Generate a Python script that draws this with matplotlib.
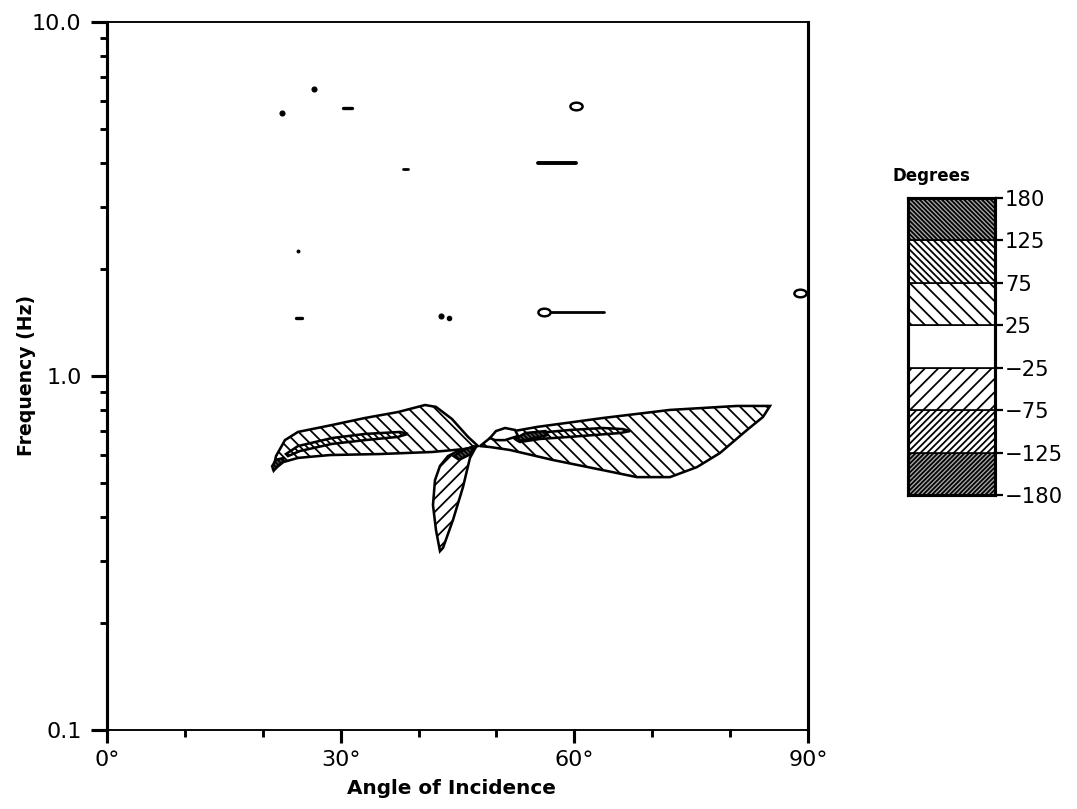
import numpy as np
import matplotlib
matplotlib.use("Agg")
import matplotlib.pyplot as plt
from matplotlib.path import Path
from matplotlib.markers import MarkerStyle
from matplotlib.transforms import Affine2D
from matplotlib.ticker import NullFormatter, FixedLocator

plt.rcParams['font.family'] = ['DejaVu Sans']
plt.rcParams['hatch.linewidth'] = 1.6

# ---- phase-band contour outlines: (angle of incidence [deg], frequency [Hz]) ----
left_lobe_ang = [21.31, 21.70, 22.85, 24.52, 28.89, 33.12, 37.36, 40.83, 42.24, 44.29,
                 46.35, 47.63, 45.96, 41.73, 35.05, 28.63, 24.52, 22.60, 21.70]
left_lobe_f = [0.542, 0.594, 0.659, 0.695, 0.727, 0.761, 0.791, 0.828, 0.818, 0.756,
               0.673, 0.634, 0.622, 0.610, 0.602, 0.598, 0.587, 0.571, 0.550]

left_inner_ang = [22.98, 24.52, 28.89, 33.12, 37.62, 38.64, 37.36, 33.12, 28.89, 24.78, 23.24]
left_inner_f = [0.602, 0.634, 0.668, 0.686, 0.695, 0.686, 0.673, 0.659, 0.643, 0.614, 0.594]

left_core_ang = [21.2, 21.7, 22.6, 22.7, 21.9, 21.4]
left_core_f = [0.556, 0.580, 0.586, 0.574, 0.556, 0.540]

down_lobe_ang = [47.37, 46.60, 45.71, 44.42, 43.14, 42.75, 42.24, 41.85, 42.11, 42.75, 43.78, 45.32]
down_lobe_f = [0.630, 0.587, 0.486, 0.392, 0.327, 0.320, 0.367, 0.432, 0.508, 0.557, 0.594, 0.618]

center_core_ang = [44.5, 45.8, 47.2, 46.6, 45.2]
center_core_f = [0.594, 0.618, 0.634, 0.600, 0.580]

right_lobe_ang = [47.89, 49.17, 50.84, 55.21, 63.68, 72.28, 80.88, 85.12, 84.22, 82.17,
                  78.70, 75.75, 72.28, 68.04, 63.68, 57.26, 51.74, 49.17]
right_lobe_f = [0.634, 0.668, 0.690, 0.718, 0.761, 0.802, 0.823, 0.823, 0.766, 0.704,
                0.606, 0.553, 0.518, 0.518, 0.542, 0.579, 0.618, 0.630]

right_inner_ang = [52.64, 55.21, 59.44, 63.68, 66.25, 67.15, 65.86, 59.44, 55.59, 53.02]
right_inner_f = [0.659, 0.690, 0.704, 0.713, 0.708, 0.699, 0.690, 0.673, 0.664, 0.651]

right_core_ang = [52.4, 53.7, 56.3, 56.6, 54.4, 52.8]
right_core_f = [0.664, 0.690, 0.699, 0.681, 0.664, 0.655]

right_bubble_ang = [49.17, 49.94, 51.10, 52.38, 52.77, 51.10, 49.81]
right_bubble_f = [0.668, 0.699, 0.713, 0.704, 0.677, 0.659, 0.659]

# ---- small isolated contours ----
dot_ang = [22.47, 26.58, 24.50, 42.88, 43.91]
dot_f = [5.53, 6.47, 2.25, 1.477, 1.458]
dot_size = [4.5, 4.5, 2.5, 4.5, 4.0]

dash_ang0 = [30.3, 38.0, 55.3, 24.3, 57.0]
dash_ang1 = [31.5, 38.6, 60.2, 25.0, 63.8]
dash_f = [5.71, 3.84, 4.00, 1.458, 1.516]
dash_lw = [3.0, 2.5, 3.5, 3.0, 2.5]

ring_ang = [60.2, 56.1, 88.97]
ring_f = [5.79, 1.516, 1.716]

# ---- colour-key bands ----
band_levels = [-180, -125, -75, -25, 25, 75, 125, 180]
band_hatch = ['//////', '////', '//', '', '\\\\', '\\\\\\\\', '\\\\\\\\\\\\']
band_face = ['#a8a8a8', 'white', 'white', 'white', 'white', 'white', '#a8a8a8']

x_major = [0, 30, 60, 90]
x_major_labels = ['0°', '30°', '60°', '90°']
x_minor = [10, 20, 40, 50, 70, 80]
y_major = [0.1, 1.0, 10.0]
y_major_labels = ['0.1', '1.0', '10.0']
y_minor = [0.2, 0.3, 0.4, 0.5, 0.6, 0.7, 0.8, 0.9, 2, 3, 4, 5, 6, 7, 8, 9]

W, H, DPI = 1077, 809, 80
fig = plt.figure(figsize=(W / DPI, H / DPI), dpi=DPI)
ax = fig.add_axes([107 / W, 1 - 730 / H, 701 / W, 708 / H])
ax.set_yscale('log')
ax.set_xlim(0, 90)
ax.set_ylim(0.1, 10)

def band(xs, ys, hatch, face='white', lw=2.3, z=2):
    ax.fill(xs, ys, facecolor=face, edgecolor='black', hatch=hatch, linewidth=lw, zorder=z)

band(left_lobe_ang, left_lobe_f, '\\\\')
band(right_lobe_ang, right_lobe_f, '\\\\')
band(down_lobe_ang, down_lobe_f, '//')
band(left_inner_ang, left_inner_f, '\\\\\\\\', z=3)
band(right_inner_ang, right_inner_f, '\\\\\\\\', z=3)
band(right_bubble_ang, right_bubble_f, '', z=3)
band(left_core_ang, left_core_f, '\\\\\\\\\\\\', face='#555555', z=4)
band(center_core_ang, center_core_f, '\\\\\\\\\\\\', face='#555555', z=4)
band(right_core_ang, right_core_f, '\\\\\\\\\\\\', face='#555555', z=4)

for a, f, s in zip(dot_ang, dot_f, dot_size):
    ax.plot([a], [f], 'o', ms=s, color='black', zorder=5)
for a0, a1, f, w in zip(dash_ang0, dash_ang1, dash_f, dash_lw):
    ax.plot([a0, a1], [f, f], color='black', lw=w, solid_capstyle='round', zorder=5)

ellipse = Path.unit_circle().transformed(Affine2D().scale(1.6, 1.0))
ring_marker = MarkerStyle(ellipse)
for a, f in zip(ring_ang, ring_f):
    ax.plot([a], [f], marker=ring_marker, ms=11, mfc='white', mec='black', mew=2.2,
            ls='none', zorder=6)

# axes frame and ticks
ax.set_xticks(x_major)
ax.set_xticklabels(x_major_labels)
ax.xaxis.set_minor_locator(FixedLocator(x_minor))
ax.set_yticks(y_major)
ax.set_yticklabels(y_major_labels)
ax.set_yticks(y_minor, minor=True)
ax.yaxis.set_minor_formatter(NullFormatter())
ax.tick_params(which='major', direction='out', length=12, width=2.8, labelsize=20)
ax.tick_params(axis='x', which='major', pad=6)
ax.tick_params(axis='y', which='major', length=14, pad=9)
ax.tick_params(which='minor', direction='out', length=6.5, width=2.6)
ax.tick_params(top=False, right=False, which='both')
for side, w in [('left', 2.8), ('right', 2.8), ('top', 1.7), ('bottom', 1.7)]:
    ax.spines[side].set_linewidth(w)

ax.set_xlabel('Angle of Incidence', fontsize=18, fontweight='bold')
ax.set_ylabel('Frequency (Hz)', fontsize=17, fontweight='bold')
ax.xaxis.set_label_coords(0.492, -0.069)
ax.yaxis.set_label_coords(-0.101, 0.501)

# colour key
cax = fig.add_axes([908 / W, 1 - 495 / H, 87 / W, 297 / H])
for i, (h, fc) in enumerate(zip(band_hatch, band_face)):
    cax.bar(0.5, 1, bottom=i, width=1, facecolor=fc, edgecolor='black', hatch=h, linewidth=1.5)
cax.set_xlim(0, 1)
cax.set_ylim(0, len(band_hatch))
cax.set_xticks([])
cax.yaxis.tick_right()
cax.set_yticks(range(len(band_levels)))
cax.set_yticklabels([str(v).replace('-', '\u2212') for v in band_levels])
cax.tick_params(axis='y', direction='out', length=7, width=2.0, labelsize=19, pad=2)
for s in cax.spines.values():
    s.set_linewidth(2.8)
fig.text(931 / W, 1 - 176 / H, 'Degrees', ha='center', va='center', fontsize=15, fontweight='bold')

fig.savefig('out.png', dpi=DPI)
